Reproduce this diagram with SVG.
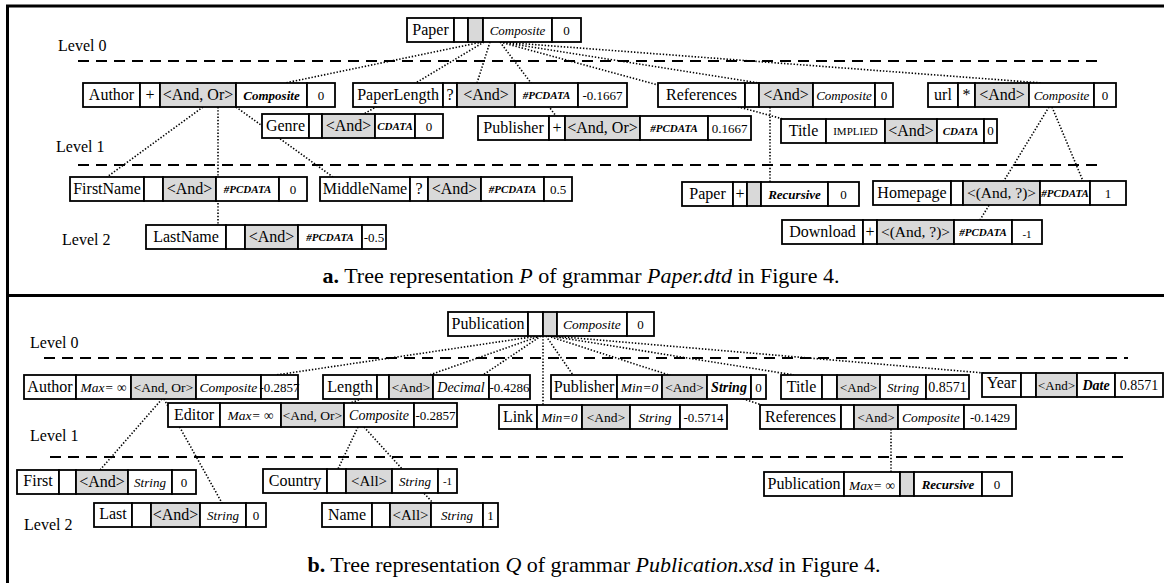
<svg xmlns="http://www.w3.org/2000/svg" width="1164" height="583" viewBox="0 0 1164 583">
<style>
.c{fill:#fff;stroke:#000;stroke-width:1.8}
.g{fill:#d9d9d9;stroke:#000;stroke-width:1.8}
text{font-family:"Liberation Serif","Times New Roman",serif;font-size:16px;text-anchor:middle;fill:#000}
.s{font-size:13px}.m{font-size:13.5px}.xs{font-size:11px}
.i{font-style:italic}.b{font-weight:bold}
.lv{text-anchor:start}
.dot{stroke:#000;stroke-width:1.6;stroke-dasharray:1.4 1.8;fill:none}
.dash{stroke:#000;stroke-width:2;stroke-dasharray:11 7;fill:none}
.frame{stroke:#000;stroke-width:3;fill:none}
.cap{font-size:22px}
</style>
<rect width="1164" height="583" fill="#fff"/>
<g id="frame">
<path class="frame" d="M7.5,583 V6 H1164 M7.5,295.5 H1164"/>
</g>
<g id="levels">
<path class="dash" d="M78,61 H1101 M78,165 H1101 M44,358 H1128 M50,457 H1130"/>
<text class="lv" x="58" y="51">Level 0</text>
<text class="lv" x="56" y="152">Level 1</text>
<text class="lv" x="62" y="245">Level 2</text>
<text class="lv" x="30" y="348">Level 0</text>
<text class="lv" x="30" y="441">Level 1</text>
<text class="lv" x="24" y="530">Level 2</text>
</g>
<g id="connectors">
<path class="dot" d="M482,42 L285,83 M490,42 L477,83 M484,42 L364,114 M500,42 L556,116 M500,42 L759,83 M500,42 L783,119 M500,42 L1042,83"/>
<path class="dot" d="M203,107 L107,177 M218,107 L218,225 M236,107 L333,177 M770,107 L770,182 M1052,107 L1083,181 M1049,107 L980,220"/>
<path class="dot" d="M538,336 L276,375 M541,336 L483,375 M540,336 L350,403 M543,336 L543,405 M546,336 L573,375 M548,336 L762,405 M550,336 L794,375 M552,336 L984,373"/>
<path class="dot" d="M162,399 L100,470 M164,399 L222,503 M358,427 L338,469 M364,427 L433,503 M891,429 L891,472"/>
</g>
<g id="nodes-a">
<g id="a-paper" transform="translate(0,18)">
<rect class="c" x="407" y="0" width="47" height="24"/><rect class="c" x="454" y="0" width="14" height="24"/><rect class="g" x="468" y="0" width="15" height="24"/><rect class="c" x="483" y="0" width="69" height="24"/><rect class="c" x="552" y="0" width="29" height="24"/>
<text x="430.5" y="17">Paper</text><text class="s i" x="517.5" y="16.5">Composite</text><text class="s" x="566.5" y="16.5">0</text>
</g>
<g id="a-author" transform="translate(0,83)">
<rect class="c" x="83" y="0" width="57" height="24"/><rect class="c" x="140" y="0" width="20" height="24"/><rect class="g" x="160" y="0" width="76" height="24"/><rect class="c" x="236" y="0" width="71" height="24"/><rect class="c" x="307" y="0" width="28" height="24"/>
<text x="111.5" y="17">Author</text><text x="150" y="17">+</text><text x="198" y="17">&lt;And, Or&gt;</text><text class="s i b" x="271.5" y="16.5">Composite</text><text class="s" x="321" y="16.5">0</text>
</g>
<g id="a-paperlength" transform="translate(0,83)">
<rect class="c" x="353" y="0" width="90" height="24"/><rect class="c" x="443" y="0" width="14" height="24"/><rect class="g" x="457" y="0" width="58" height="24"/><rect class="c" x="515" y="0" width="63" height="24"/><rect class="c" x="578" y="0" width="49" height="24"/>
<text x="398" y="17">PaperLength</text><text x="450" y="17">?</text><text x="486" y="17">&lt;And&gt;</text><text class="xs i b" x="546.5" y="16">#PCDATA</text><text class="s" x="602.5" y="16.5">-0.1667</text>
</g>
<g id="a-references" transform="translate(0,83)">
<rect class="c" x="658" y="0" width="87" height="24"/><rect class="c" x="745" y="0" width="14" height="24"/><rect class="g" x="759" y="0" width="54" height="24"/><rect class="c" x="813" y="0" width="62" height="24"/><rect class="c" x="875" y="0" width="18" height="24"/>
<text x="701.5" y="17">References</text><text x="786" y="17">&lt;And&gt;</text><text class="s i" x="844" y="16.5">Composite</text><text class="s" x="884" y="16.5">0</text>
</g>
<g id="a-url" transform="translate(0,83)">
<rect class="c" x="928" y="0" width="30" height="24"/><rect class="c" x="958" y="0" width="17" height="24"/><rect class="g" x="975" y="0" width="54" height="24"/><rect class="c" x="1029" y="0" width="65" height="24"/><rect class="c" x="1094" y="0" width="22" height="24"/>
<text x="943" y="17">url</text><text x="966.5" y="17">*</text><text x="1002" y="17">&lt;And&gt;</text><text class="s i" x="1061.5" y="16.5">Composite</text><text class="s" x="1105" y="16.5">0</text>
</g>
<g id="a-genre" transform="translate(0,114)">
<rect class="c" x="262" y="0" width="47" height="24"/><rect class="c" x="309" y="0" width="13" height="24"/><rect class="g" x="322" y="0" width="53" height="24"/><rect class="c" x="375" y="0" width="40" height="24"/><rect class="c" x="415" y="0" width="28" height="24"/>
<text x="285.5" y="17">Genre</text><text x="348.5" y="17">&lt;And&gt;</text><text class="xs i b" x="395" y="16">CDATA</text><text class="s" x="429" y="16.5">0</text>
</g>
<g id="a-publisher" transform="translate(0,116)">
<rect class="c" x="478" y="0" width="71" height="24"/><rect class="c" x="549" y="0" width="16" height="24"/><rect class="g" x="565" y="0" width="75" height="24"/><rect class="c" x="640" y="0" width="68" height="24"/><rect class="c" x="708" y="0" width="43" height="24"/>
<text x="513.5" y="17">Publisher</text><text x="557" y="17">+</text><text x="602.5" y="17">&lt;And, Or&gt;</text><text class="xs i b" x="674" y="16">#PCDATA</text><text class="s" x="729.5" y="16.5">0.1667</text>
</g>
<g id="a-title" transform="translate(0,119)">
<rect class="c" x="781" y="0" width="45" height="24"/><rect class="c" x="826" y="0" width="59" height="24"/><rect class="g" x="885" y="0" width="52" height="24"/><rect class="c" x="937" y="0" width="47" height="24"/><rect class="c" x="984" y="0" width="13" height="24"/>
<text x="803.5" y="17">Title</text><text class="xs" x="855.5" y="16">IMPLIED</text><text x="911" y="17">&lt;And&gt;</text><text class="xs i b" x="960.5" y="16">CDATA</text><text class="s" x="990.5" y="16">0</text>
</g>
<g id="a-firstname" transform="translate(0,177)">
<rect class="c" x="70" y="0" width="74" height="24"/><rect class="c" x="144" y="0" width="19" height="24"/><rect class="g" x="163" y="0" width="53" height="24"/><rect class="c" x="216" y="0" width="63" height="24"/><rect class="c" x="279" y="0" width="28" height="24"/>
<text x="107" y="17">FirstName</text><text x="189.5" y="17">&lt;And&gt;</text><text class="xs i b" x="247.5" y="16">#PCDATA</text><text class="s" x="293" y="16.5">0</text>
</g>
<g id="a-middlename" transform="translate(0,177)">
<rect class="c" x="320" y="0" width="90" height="24"/><rect class="c" x="410" y="0" width="18" height="24"/><rect class="g" x="428" y="0" width="53" height="24"/><rect class="c" x="481" y="0" width="63" height="24"/><rect class="c" x="544" y="0" width="28" height="24"/>
<text x="365" y="17">MiddleName</text><text x="419" y="17">?</text><text x="454.5" y="17">&lt;And&gt;</text><text class="xs i b" x="512.5" y="16">#PCDATA</text><text class="s" x="558" y="16.5">0.5</text>
</g>
<g id="a-lastname" transform="translate(0,225)">
<rect class="c" x="146" y="0" width="80" height="24"/><rect class="c" x="226" y="0" width="19" height="24"/><rect class="g" x="245" y="0" width="53" height="24"/><rect class="c" x="298" y="0" width="64" height="24"/><rect class="c" x="362" y="0" width="24" height="24"/>
<text x="186" y="17">LastName</text><text x="271.5" y="17">&lt;And&gt;</text><text class="xs i b" x="330" y="16">#PCDATA</text><text class="s" x="374" y="16.5">-0.5</text>
</g>
<g id="a-paper-recursive" transform="translate(0,182)">
<rect class="c" x="682" y="0" width="51" height="24"/><rect class="c" x="733" y="0" width="14" height="24"/><rect class="g" x="747" y="0" width="14" height="24"/><rect class="c" x="761" y="0" width="67" height="24"/><rect class="c" x="828" y="0" width="31" height="24"/>
<text x="707.5" y="17">Paper</text><text x="740" y="17">+</text><text class="s i b" x="794.5" y="16.5">Recursive</text><text class="s" x="843.5" y="16.5">0</text>
</g>
<g id="a-homepage" transform="translate(0,181)">
<rect class="c" x="873" y="0" width="78" height="24"/><rect class="c" x="951" y="0" width="12" height="24"/><rect class="g" x="963" y="0" width="77" height="24"/><rect class="c" x="1040" y="0" width="50" height="24"/><rect class="c" x="1090" y="0" width="36" height="24"/>
<text x="912" y="17">Homepage</text><text x="1001.5" y="17" style="font-size:15.5px">&lt;(And, ?)&gt;</text><text class="xs i b" x="1065" y="16">#PCDATA</text><text class="s" x="1108" y="16.5">1</text>
</g>
<g id="a-download" transform="translate(0,220)">
<rect class="c" x="782" y="0" width="81" height="24"/><rect class="c" x="863" y="0" width="14" height="24"/><rect class="g" x="877" y="0" width="77" height="24"/><rect class="c" x="954" y="0" width="58" height="24"/><rect class="c" x="1012" y="0" width="30" height="24"/>
<text x="822.5" y="17">Download</text><text x="870" y="17">+</text><text x="915.5" y="17" style="font-size:15.5px">&lt;(And, ?)&gt;</text><text class="xs i b" x="983" y="16">#PCDATA</text><text class="xs" x="1027" y="18">-1</text>
</g>
</g>
<g id="nodes-b">
<g id="b-publication" transform="translate(0,312)">
<rect class="c" x="448" y="0" width="80" height="24"/><rect class="c" x="528" y="0" width="15" height="24"/><rect class="g" x="543" y="0" width="14" height="24"/><rect class="c" x="557" y="0" width="70" height="24"/><rect class="c" x="627" y="0" width="27" height="24"/>
<text x="488" y="17">Publication</text><text class="m i" x="592" y="16.5">Composite</text><text class="s" x="640.5" y="16.5">0</text>
</g>
<g id="b-author" transform="translate(0,375)">
<rect class="c" x="24" y="0" width="52" height="24"/><rect class="c" x="76" y="0" width="55" height="24"/><rect class="g" x="131" y="0" width="65" height="24"/><rect class="c" x="196" y="0" width="65" height="24"/><rect class="c" x="261" y="0" width="37" height="24"/>
<text x="50" y="17">Author</text><text class="m" x="103.5" y="16.5"><tspan class="i">Max=</tspan> ∞</text><text class="m" x="163.5" y="16.5">&lt;And, Or&gt;</text><text class="m i" x="228.5" y="16.5">Composite</text><text class="s" x="279.5" y="16.5">-0.2857</text>
</g>
<g id="b-length" transform="translate(0,375)">
<rect class="c" x="323" y="0" width="54" height="24"/><rect class="c" x="377" y="0" width="12" height="24"/><rect class="g" x="389" y="0" width="44" height="24"/><rect class="c" x="433" y="0" width="56" height="24"/><rect class="c" x="489" y="0" width="41" height="24"/>
<text x="350" y="17">Length</text><text class="m" x="411" y="16.5">&lt;And&gt;</text><text class="i" x="461" y="17" style="font-size:14px">Decimal</text><text class="s" x="509.5" y="16.5">-0.4286</text>
</g>
<g id="b-publisher" transform="translate(0,375)">
<rect class="c" x="551" y="0" width="66" height="24"/><rect class="c" x="617" y="0" width="45" height="24"/><rect class="g" x="662" y="0" width="45" height="24"/><rect class="c" x="707" y="0" width="44" height="24"/><rect class="c" x="751" y="0" width="15" height="24"/>
<text x="584" y="17">Publisher</text><text class="m i" x="639.5" y="16.5">Min=0</text><text class="m" x="684.5" y="16.5">&lt;And&gt;</text><text class="i b" x="729" y="17" style="font-size:14px">String</text><text class="s" x="758.5" y="16.5">0</text>
</g>
<g id="b-title" transform="translate(0,375)">
<rect class="c" x="781" y="0" width="41" height="24"/><rect class="c" x="822" y="0" width="15" height="24"/><rect class="g" x="837" y="0" width="43" height="24"/><rect class="c" x="880" y="0" width="46" height="24"/><rect class="c" x="926" y="0" width="43" height="24"/>
<text x="801.5" y="17">Title</text><text class="s" x="858.5" y="16.5">&lt;And&gt;</text><text class="s i" x="903" y="16.5">String</text><text x="947.5" y="17" style="font-size:14px">0.8571</text>
</g>
<g id="b-year" transform="translate(0,373)">
<rect class="c" x="982" y="0" width="39" height="24"/><rect class="c" x="1021" y="0" width="15" height="24"/><rect class="g" x="1036" y="0" width="41" height="24"/><rect class="c" x="1077" y="0" width="38" height="24"/><rect class="c" x="1115" y="0" width="48" height="24"/>
<text x="1001.5" y="15">Year</text><text class="s" x="1056.5" y="16.5">&lt;And&gt;</text><text class="i b" x="1096" y="17" style="font-size:14px">Date</text><text x="1139" y="17" style="font-size:14px">0.8571</text>
</g>
<g id="b-editor" transform="translate(0,403)">
<rect class="c" x="168" y="0" width="52" height="24"/><rect class="c" x="220" y="0" width="61" height="24"/><rect class="g" x="281" y="0" width="63" height="24"/><rect class="c" x="344" y="0" width="70" height="24"/><rect class="c" x="414" y="0" width="43" height="24"/>
<text x="194" y="17">Editor</text><text class="m" x="250.5" y="16.5"><tspan class="i">Max=</tspan> ∞</text><text class="m" x="312.5" y="16.5">&lt;And, Or&gt;</text><text class="i" x="379" y="17" style="font-size:14px">Composite</text><text class="s" x="435.5" y="16.5">-0.2857</text>
</g>
<g id="b-link" transform="translate(0,405)">
<rect class="c" x="499" y="0" width="38" height="24"/><rect class="c" x="537" y="0" width="45" height="24"/><rect class="g" x="582" y="0" width="48" height="24"/><rect class="c" x="630" y="0" width="50" height="24"/><rect class="c" x="680" y="0" width="47" height="24"/>
<text x="518" y="17">Link</text><text class="s i" x="559.5" y="16.5">Min=0</text><text class="m" x="606" y="16.5">&lt;And&gt;</text><text class="m i" x="655" y="16.5">String</text><text class="s" x="703.5" y="16.5">-0.5714</text>
</g>
<g id="b-references" transform="translate(0,405)">
<rect class="c" x="760" y="0" width="81" height="24"/><rect class="c" x="841" y="0" width="13" height="24"/><rect class="g" x="854" y="0" width="44" height="24"/><rect class="c" x="898" y="0" width="66" height="24"/><rect class="c" x="964" y="0" width="52" height="24"/>
<text x="800.5" y="17">References</text><text class="s" x="876" y="16.5">&lt;And&gt;</text><text class="m i" x="931" y="16.5">Composite</text><text class="s" x="990" y="16.5">-0.1429</text>
</g>
<g id="b-first" transform="translate(0,470)">
<rect class="c" x="17" y="0" width="42" height="24"/><rect class="c" x="59" y="0" width="17" height="24"/><rect class="g" x="76" y="0" width="52" height="24"/><rect class="c" x="128" y="0" width="44" height="24"/><rect class="c" x="172" y="0" width="24" height="24"/>
<text x="38" y="16">First</text><text x="102" y="17">&lt;And&gt;</text><text class="s i" x="150" y="16.5">String</text><text class="s" x="184" y="16.5">0</text>
</g>
<g id="b-country" transform="translate(0,469)">
<rect class="c" x="263" y="0" width="64" height="24"/><rect class="c" x="327" y="0" width="19" height="24"/><rect class="g" x="346" y="0" width="46" height="24"/><rect class="c" x="392" y="0" width="46" height="24"/><rect class="c" x="438" y="0" width="19" height="24"/>
<text x="295" y="17">Country</text><text x="369" y="17" style="font-size:15px">&lt;All&gt;</text><text class="s i" x="415" y="16.5">String</text><text class="xs" x="447.5" y="16">-1</text>
</g>
<g id="b-publication-recursive" transform="translate(0,472)">
<rect class="c" x="764" y="0" width="80" height="24"/><rect class="c" x="844" y="0" width="56" height="24"/><rect class="g" x="900" y="0" width="14" height="24"/><rect class="c" x="914" y="0" width="68" height="24"/><rect class="c" x="982" y="0" width="30" height="24"/>
<text x="804" y="17">Publication</text><text class="m" x="872" y="17.5"><tspan class="i">Max=</tspan> ∞</text><text class="s i b" x="948" y="16.5">Recursive</text><text class="s" x="997" y="16.5">0</text>
</g>
<g id="b-last" transform="translate(0,503)">
<rect class="c" x="94" y="0" width="38" height="24"/><rect class="c" x="132" y="0" width="19" height="24"/><rect class="g" x="151" y="0" width="49" height="24"/><rect class="c" x="200" y="0" width="46" height="24"/><rect class="c" x="246" y="0" width="20" height="24"/>
<text x="113" y="16">Last</text><text x="175.5" y="17">&lt;And&gt;</text><text class="s i" x="223" y="16.5">String</text><text class="s" x="256" y="16.5">0</text>
</g>
<g id="b-name" transform="translate(0,503)">
<rect class="c" x="322" y="0" width="50" height="24"/><rect class="c" x="372" y="0" width="18" height="24"/><rect class="g" x="390" y="0" width="41" height="24"/><rect class="c" x="431" y="0" width="52" height="24"/><rect class="c" x="483" y="0" width="15" height="24"/>
<text x="347" y="17">Name</text><text x="410.5" y="17" style="font-size:15px">&lt;All&gt;</text><text class="s i" x="457" y="16.5">String</text><text class="s" x="490.5" y="16.5">1</text>
</g>
</g>
<g id="captions">
<text class="cap" x="581" y="283"><tspan class="b">a.</tspan> Tree representation <tspan class="i">P</tspan> of grammar <tspan class="i">Paper.dtd</tspan> in Figure 4.</text>
<text class="cap" x="594" y="572"><tspan class="b">b.</tspan> Tree representation <tspan class="i">Q</tspan> of grammar <tspan class="i">Publication.xsd</tspan> in Figure 4.</text>
</g>
</svg>
